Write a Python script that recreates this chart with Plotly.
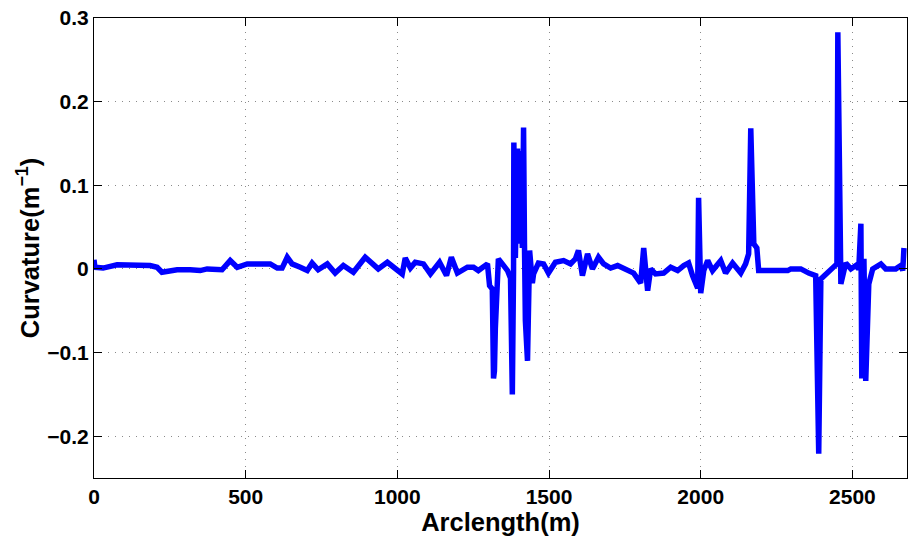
import plotly.graph_objects as go

# Arclength (m)
arclength = [0, 3, 30, 76, 185, 208, 224, 274, 317, 350, 373, 422, 449, 472, 505, 581, 604, 620,
             637, 653, 680, 703, 719, 739, 769, 795, 822, 855, 894, 937, 967, 1016, 1026, 1043,
             1059, 1086, 1109, 1139, 1162, 1178, 1198, 1231, 1251, 1267, 1297, 1300, 1304, 1313,
             1317, 1320, 1323, 1330, 1333, 1346, 1363, 1373, 1379, 1383, 1384, 1389, 1396, 1402,
             1406, 1412, 1416, 1419, 1422, 1429, 1436, 1445, 1449, 1465, 1482, 1498, 1521, 1548,
             1571, 1587, 1597, 1610, 1627, 1643, 1663, 1680, 1703, 1726, 1746, 1779, 1802, 1812,
             1825, 1835, 1851, 1878, 1901, 1924, 1944, 1960, 1973, 1990, 1993, 2000, 2010, 2023,
             2039, 2066, 2082, 2105, 2132, 2148, 2158, 2165, 2175, 2185, 2191, 2287, 2297, 2330,
             2356, 2379, 2389, 2396, 2449, 2452, 2462, 2478, 2495, 2511, 2521, 2528, 2531, 2538,
             2544, 2554, 2567, 2594, 2610, 2643, 2660, 2666, 2670]

# Curvature (1/m)
curvature = [0.011, 0.002, 0.001, 0.005, 0.004, 0.002, -0.004, -0.001, -0.001, -0.002, 0.000,
             -0.001, 0.010, 0.002, 0.006, 0.006, 0.001, 0.001, 0.014, 0.006, 0.002, -0.002, 0.007,
             -0.001, 0.006, -0.005, 0.004, -0.004, 0.014, 0.000, 0.008, -0.006, 0.013, 0.001,
             0.008, 0.006, -0.006, 0.008, -0.008, 0.014, -0.005, 0.002, 0.002, -0.002, 0.006,
             -0.006, -0.020, -0.024, -0.131, -0.122, -0.071, -0.002, 0.012, 0.006, -0.002, -0.011,
             -0.150, -0.002, 0.151, 0.013, 0.144, 0.030, 0.141, 0.025, 0.169, 0.030, -0.062,
             -0.110, 0.022, -0.017, -0.006, 0.007, 0.006, -0.005, 0.008, 0.010, 0.006, 0.012,
             0.022, -0.008, 0.018, 0.000, 0.014, 0.006, 0.001, 0.004, 0.000, -0.005, -0.017,
             0.025, -0.026, 0.000, -0.006, -0.005, 0.002, -0.002, 0.004, 0.007, -0.008, -0.023,
             0.085, -0.029, -0.002, 0.010, -0.002, 0.010, -0.005, 0.007, -0.005, 0.006, 0.018,
             0.168, 0.030, 0.025, -0.002, -0.002, 0.000, 0.000, -0.005, -0.008, -0.221, -0.012,
             0.006, 0.283, -0.018, 0.007, 0.000, 0.004, 0.000, 0.054, -0.131, 0.012, -0.134,
             -0.018, 0.000, 0.006, 0.000, 0.000, 0.004, -0.002, 0.025]

x_ticks = [0, 500, 1000, 1500, 2000, 2500]
y_ticks = [-0.2, -0.1, 0, 0.1, 0.2, 0.3]
y_tick_labels = ["\u22120.2", "\u22120.1", "0", "0.1", "0.2", "0.3"]

FONT = "Liberation Sans, Arial, Helvetica, sans-serif"

fig = go.Figure()
fig.add_trace(go.Scatter(x=arclength, y=curvature, mode="lines",
                         line=dict(color="#0000ff", width=5.5), showlegend=False))

axis_common = dict(
    showline=True, linecolor="black", linewidth=1, mirror="ticks",
    ticks="inside", ticklen=8, tickcolor="black",
    showgrid=True, gridcolor="#8a8a8a", gridwidth=1, griddash="1px,6px",
    zeroline=False, automargin=False,
    tickfont=dict(family=FONT, size=21, color="black", weight="bold"),
)

fig.update_xaxes(range=[0, 2680], tickvals=x_ticks, ticktext=[str(v) for v in x_ticks],
                 title=dict(text="Arclength(m)", standoff=0,
                            font=dict(family=FONT, size=25.5, color="black", weight="bold")),
                 **axis_common)
fig.update_yaxes(range=[-0.25, 0.3], tickvals=y_ticks, ticktext=y_tick_labels,
                 title=dict(text="Curvature(m<sup>\u22121</sup>)", standoff=0,
                            font=dict(family=FONT, size=25.5, color="black", weight="bold")),
                 **axis_common)

fig.update_layout(
    width=908, height=546,
    margin=dict(l=94, r=1, t=18, b=68),
    plot_bgcolor="white", paper_bgcolor="white",
)

fig.write_html(
    "out.html",
    config={"displayModeBar": False},
    post_script="document.body.style.margin='0';document.body.style.overflow='hidden';",
)
